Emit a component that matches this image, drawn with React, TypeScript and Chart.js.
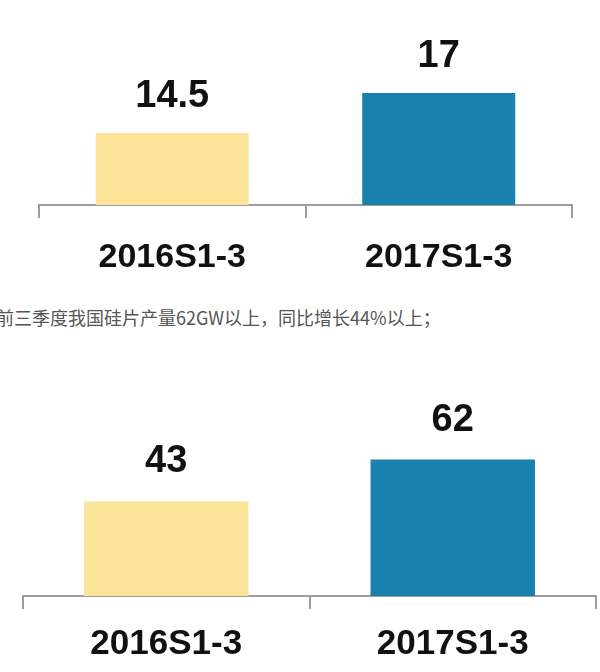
import React, { useEffect, useRef } from "react";
import { Chart, registerables } from "chart.js";

Chart.register(...registerables);

const categories = ["2016S1-3", "2017S1-3"];
const topValues = [14.5, 17];
const topValueLabels = ["14.5", "17"];
const bottomValues = [43, 62];
const bottomValueLabels = ["43", "62"];
const barColors = ["#FBE499", "#1A80AD"];
const captionText = "前三季度我国硅片产量62GW以上，同比增长44%以上；";

const valueLabelPlugin = {
  id: "valueLabels",
  afterDatasetsDraw(chart: any, _args: any, opts: any) {
    const ctx = chart.ctx;
    const meta = chart.getDatasetMeta(0);
    ctx.save();
    ctx.fillStyle = "#111";
    ctx.font = `bold ${opts.size}px "Liberation Sans", Arial, sans-serif`;
    ctx.textAlign = "center";
    ctx.textBaseline = "alphabetic";
    meta.data.forEach((bar: any, i: number) => {
      ctx.fillText(opts.labels[i], bar.x, bar.y - opts.gap);
    });
    ctx.restore();
  },
};

function makeConfig(values: number[], labels: string[], o: any) {
  return {
    type: "bar" as const,
    data: {
      labels: categories,
      datasets: [
        {
          data: values,
          backgroundColor: barColors,
          borderWidth: 0,
          barPercentage: 0.574,
          categoryPercentage: 1,
        },
      ],
    },
    plugins: [valueLabelPlugin],
    options: {
      responsive: false,
      animation: false as const,
      layout: {
        padding: { left: o.left, right: o.right, top: o.top, bottom: 0 },
      },
      plugins: {
        legend: { display: false },
        tooltip: { enabled: false },
        valueLabels: { labels, size: o.valueSize, gap: o.gap },
      },
      scales: {
        x: {
          offset: true,
          afterFit: (scale: any) => {
            scale.height = o.axisHeight;
          },
          grid: {
            display: true,
            offset: true,
            drawOnChartArea: false,
            drawTicks: true,
            tickLength: 13,
            color: "#9E9E9E",
            lineWidth: 2,
          },
          border: { display: true, color: "#9E9E9E", width: 2 },
          ticks: {
            color: "#111",
            padding: o.tickPad,
            font: {
              family: '"Liberation Sans", Arial, sans-serif',
              weight: "bold",
              size: o.tickSize,
            },
          },
        },
        y: {
          display: false,
          min: o.min,
          max: o.max,
        },
      },
    },
  };
}

function BarChart(props: {
  values: number[];
  labels: string[];
  width: number;
  height: number;
  top: number;
  cfg: any;
}) {
  const ref = useRef<HTMLCanvasElement | null>(null);
  useEffect(() => {
    if (!ref.current) return;
    const chart = new Chart(ref.current, makeConfig(props.values, props.labels, props.cfg) as any);
    return () => chart.destroy();
  }, []);
  return (
    <canvas
      ref={ref}
      width={props.width}
      height={props.height}
      style={{ position: "absolute", left: 0, top: props.top, width: props.width, height: props.height }}
    />
  );
}

export default function App() {
  return (
    <div
      style={{
        position: "fixed",
        left: 0,
        top: 0,
        width: 600,
        height: 672,
        background: "#fff",
        overflow: "hidden",
      }}
    >
      <BarChart
        values={topValues}
        labels={topValueLabels}
        width={600}
        height={285}
        top={0}
        cfg={{
          left: 39,
          right: 28,
          top: 45,
          axisHeight: 80,
          min: 10,
          max: 20,
          tickSize: 34,
          tickPad: 19,
          valueSize: 38,
          gap: 26,
        }}
      />
      <div
        style={{
          position: "absolute",
          left: -4,
          top: 305,
          fontFamily: '"Noto Sans CJK SC", sans-serif',
          fontSize: 18,
          lineHeight: "24px",
          color: "#555",
          whiteSpace: "nowrap",
        }}
      >
        {captionText}
      </div>
      <BarChart
        values={bottomValues}
        labels={bottomValueLabels}
        width={600}
        height={332}
        top={340}
        cfg={{
          left: 23,
          right: 4,
          top: 80,
          axisHeight: 76,
          min: 0,
          max: 80,
          tickSize: 35,
          tickPad: 14,
          valueSize: 38,
          gap: 29,
        }}
      />
    </div>
  );
}
